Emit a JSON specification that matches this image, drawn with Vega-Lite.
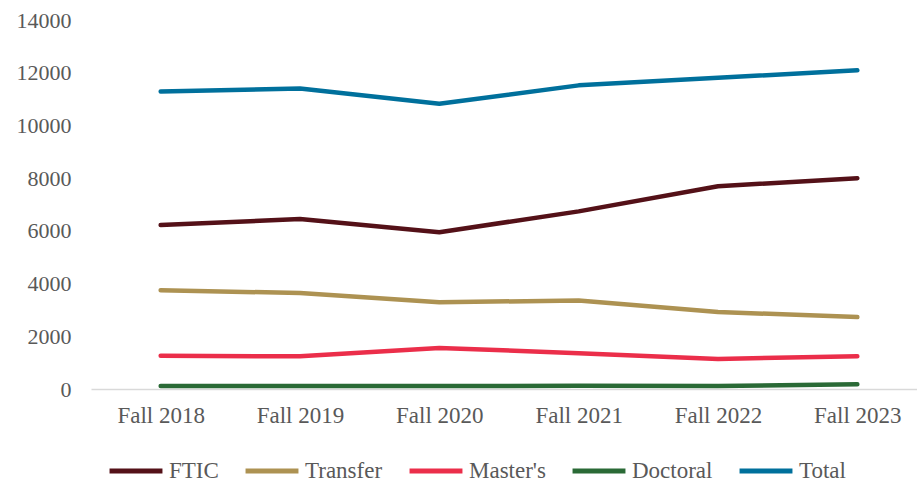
{
  "$schema": "https://vega.github.io/schema/vega-lite/v6.json",
  "width": 836,
  "height": 369,
  "autosize": "none",
  "padding": {"left": 91, "top": 20, "right": 0, "bottom": 92},
  "background": "white",
  "config": {"view": {"stroke": null}, "font": "Liberation Serif"},
  "data": {"values": [
    {"term": "Fall 2018", "group": "FTIC", "value": 6220},
    {"term": "Fall 2019", "group": "FTIC", "value": 6450},
    {"term": "Fall 2020", "group": "FTIC", "value": 5950},
    {"term": "Fall 2021", "group": "FTIC", "value": 6740},
    {"term": "Fall 2022", "group": "FTIC", "value": 7690},
    {"term": "Fall 2023", "group": "FTIC", "value": 8000},
    {"term": "Fall 2018", "group": "Transfer", "value": 3750},
    {"term": "Fall 2019", "group": "Transfer", "value": 3640},
    {"term": "Fall 2020", "group": "Transfer", "value": 3290},
    {"term": "Fall 2021", "group": "Transfer", "value": 3360},
    {"term": "Fall 2022", "group": "Transfer", "value": 2920},
    {"term": "Fall 2023", "group": "Transfer", "value": 2730},
    {"term": "Fall 2018", "group": "Master's", "value": 1260},
    {"term": "Fall 2019", "group": "Master's", "value": 1240},
    {"term": "Fall 2020", "group": "Master's", "value": 1560},
    {"term": "Fall 2021", "group": "Master's", "value": 1360},
    {"term": "Fall 2022", "group": "Master's", "value": 1140},
    {"term": "Fall 2023", "group": "Master's", "value": 1240},
    {"term": "Fall 2018", "group": "Doctoral", "value": 110},
    {"term": "Fall 2019", "group": "Doctoral", "value": 110},
    {"term": "Fall 2020", "group": "Doctoral", "value": 110},
    {"term": "Fall 2021", "group": "Doctoral", "value": 120},
    {"term": "Fall 2022", "group": "Doctoral", "value": 110},
    {"term": "Fall 2023", "group": "Doctoral", "value": 180},
    {"term": "Fall 2018", "group": "Total", "value": 11290},
    {"term": "Fall 2019", "group": "Total", "value": 11400},
    {"term": "Fall 2020", "group": "Total", "value": 10820},
    {"term": "Fall 2021", "group": "Total", "value": 11520},
    {"term": "Fall 2022", "group": "Total", "value": 11810},
    {"term": "Fall 2023", "group": "Total", "value": 12090}
  ]},
  "mark": {"type": "line", "strokeWidth": 4.5, "strokeCap": "round", "strokeJoin": "round"},
  "encoding": {
    "x": {
      "field": "term", "type": "ordinal", "title": null, "sort": null,
      "scale": {"type": "point", "padding": 0.5},
      "axis": {
        "labelAngle": 0, "labelFont": "Liberation Serif", "labelFontSize": 23,
        "labelColor": "#595959", "labelPadding": 15, "ticks": false,
        "domainColor": "#d9d9d9", "domainWidth": 1.5, "grid": false
      }
    },
    "y": {
      "field": "value", "type": "quantitative", "title": null,
      "scale": {"domain": [0, 14000], "nice": false},
      "axis": {
        "values": [0, 2000, 4000, 6000, 8000, 10000, 12000, 14000], "format": "d",
        "labelFont": "Liberation Serif", "labelFontSize": 22,
        "labelColor": "#595959", "labelPadding": 20, "ticks": false,
        "domain": false, "grid": false
      }
    },
    "color": {
      "field": "group", "type": "nominal", "title": null,
      "scale": {
        "domain": ["FTIC", "Transfer", "Master's", "Doctoral", "Total"],
        "range": ["#541118", "#AD9252", "#EB2E4A", "#2A6A36", "#00709C"]
      },
      "legend": {
        "orient": "none", "direction": "horizontal", "legendX": 16, "legendY": 422,
        "symbolType": "stroke", "symbolSize": 2800, "symbolStrokeWidth": 5,
        "labelFont": "Liberation Serif", "labelFontSize": 23, "labelColor": "#595959",
        "labelOffset": 4, "columnPadding": 16
      }
    }
  }
}
